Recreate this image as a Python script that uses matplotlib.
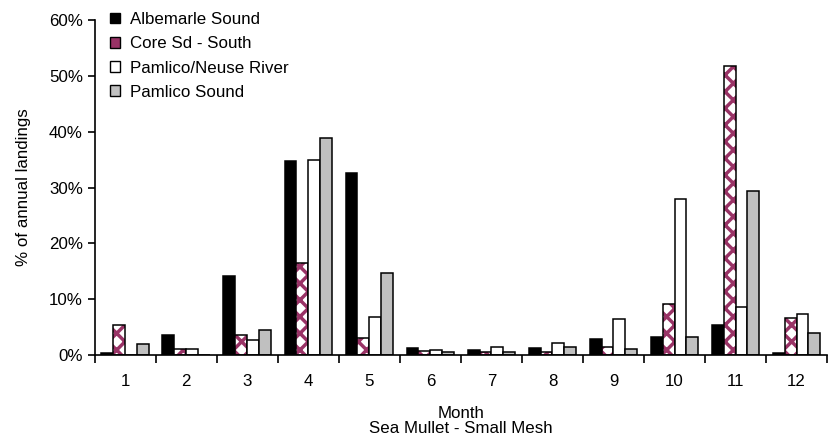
import numpy as np
import matplotlib
matplotlib.use("Agg")
import matplotlib.pyplot as plt
from matplotlib.patches import Patch

plt.rcParams['font.family'] = ['Liberation Sans', 'DejaVu Sans']
plt.rcParams['hatch.linewidth'] = 2.5

months = ["1", "2", "3", "4", "5", "6", "7", "8", "9", "10", "11", "12"]
albemarle = [0.4, 3.6, 14.2, 34.7, 32.6, 1.2, 0.9, 1.2, 2.9, 3.3, 5.4, 0.3]
core_south = [5.4, 1.1, 3.6, 16.5, 3.0, 0.8, 0.6, 0.6, 1.4, 9.1, 51.8, 6.6]
pamlico_neuse = [0.0, 1.1, 2.7, 35.0, 6.8, 0.9, 1.5, 2.1, 6.4, 27.9, 8.6, 7.3]
pamlico_sound = [2.0, 0.0, 4.4, 38.9, 14.7, 0.5, 0.5, 1.4, 1.1, 3.2, 29.4, 3.9]

magenta = "#993366"
fs = 12.2

fig = plt.figure(figsize=(8.38, 4.46), dpi=100)
ax = fig.add_axes([0.113, 0.204, 0.874, 0.751])

x = np.arange(len(months))
w = 0.195
edge = 1.1

ax.bar(x - 1.5 * w, albemarle, w, color="black", edgecolor="black", linewidth=edge)
# patterned series: hatch first, then outline on top
ax.bar(x - 0.5 * w, core_south, w, color="white", edgecolor=magenta, hatch="xx", linewidth=0)
ax.bar(x - 0.5 * w, core_south, w, color="none", edgecolor="black", linewidth=edge)
ax.bar(x + 0.5 * w, pamlico_neuse, w, color="white", edgecolor="black", linewidth=edge)
ax.bar(x + 1.5 * w, pamlico_sound, w, color="#c0c0c0", edgecolor="black", linewidth=edge)

ax.set_xlim(-0.5, len(months) - 0.5)
ax.set_ylim(0, 60)
ax.set_yticks(np.arange(0, 61, 10))
ax.set_yticklabels([f"{v}%" for v in range(0, 61, 10)])
ax.set_xticks(x)
ax.set_xticklabels(months)
ax.set_xticks(np.arange(-0.5, len(months), 1), minor=True)
ax.tick_params(axis="x", which="major", length=0, pad=14, labelsize=fs)
ax.tick_params(axis="x", which="minor", length=6, width=1.2, direction="out")
ax.tick_params(axis="y", length=5, width=1.2, direction="out", labelsize=fs)

for s in ["top", "right"]:
    ax.spines[s].set_visible(False)
for s in ["left", "bottom"]:
    ax.spines[s].set_linewidth(1.2)

ax.set_xlabel("Month\nSea Mullet - Small Mesh", fontsize=fs, labelpad=12, linespacing=1.0)
ax.set_ylabel("% of annual landings", fontsize=fs, labelpad=13)

handles = [
    Patch(facecolor="black", edgecolor="black"),
    Patch(facecolor=magenta, edgecolor="black"),
    Patch(facecolor="white", edgecolor="black"),
    Patch(facecolor="#c0c0c0", edgecolor="black"),
]
labels = ["Albemarle Sound", "Core Sd - South", "Pamlico/Neuse River", "Pamlico Sound"]
ax.legend(handles, labels, loc="upper left", bbox_to_anchor=(0.0, 1.07),
          frameon=False, fontsize=fs, handlelength=0.6, handleheight=0.6,
          handletextpad=0.6, labelspacing=0.55)

fig.savefig("out.png", dpi=100)
